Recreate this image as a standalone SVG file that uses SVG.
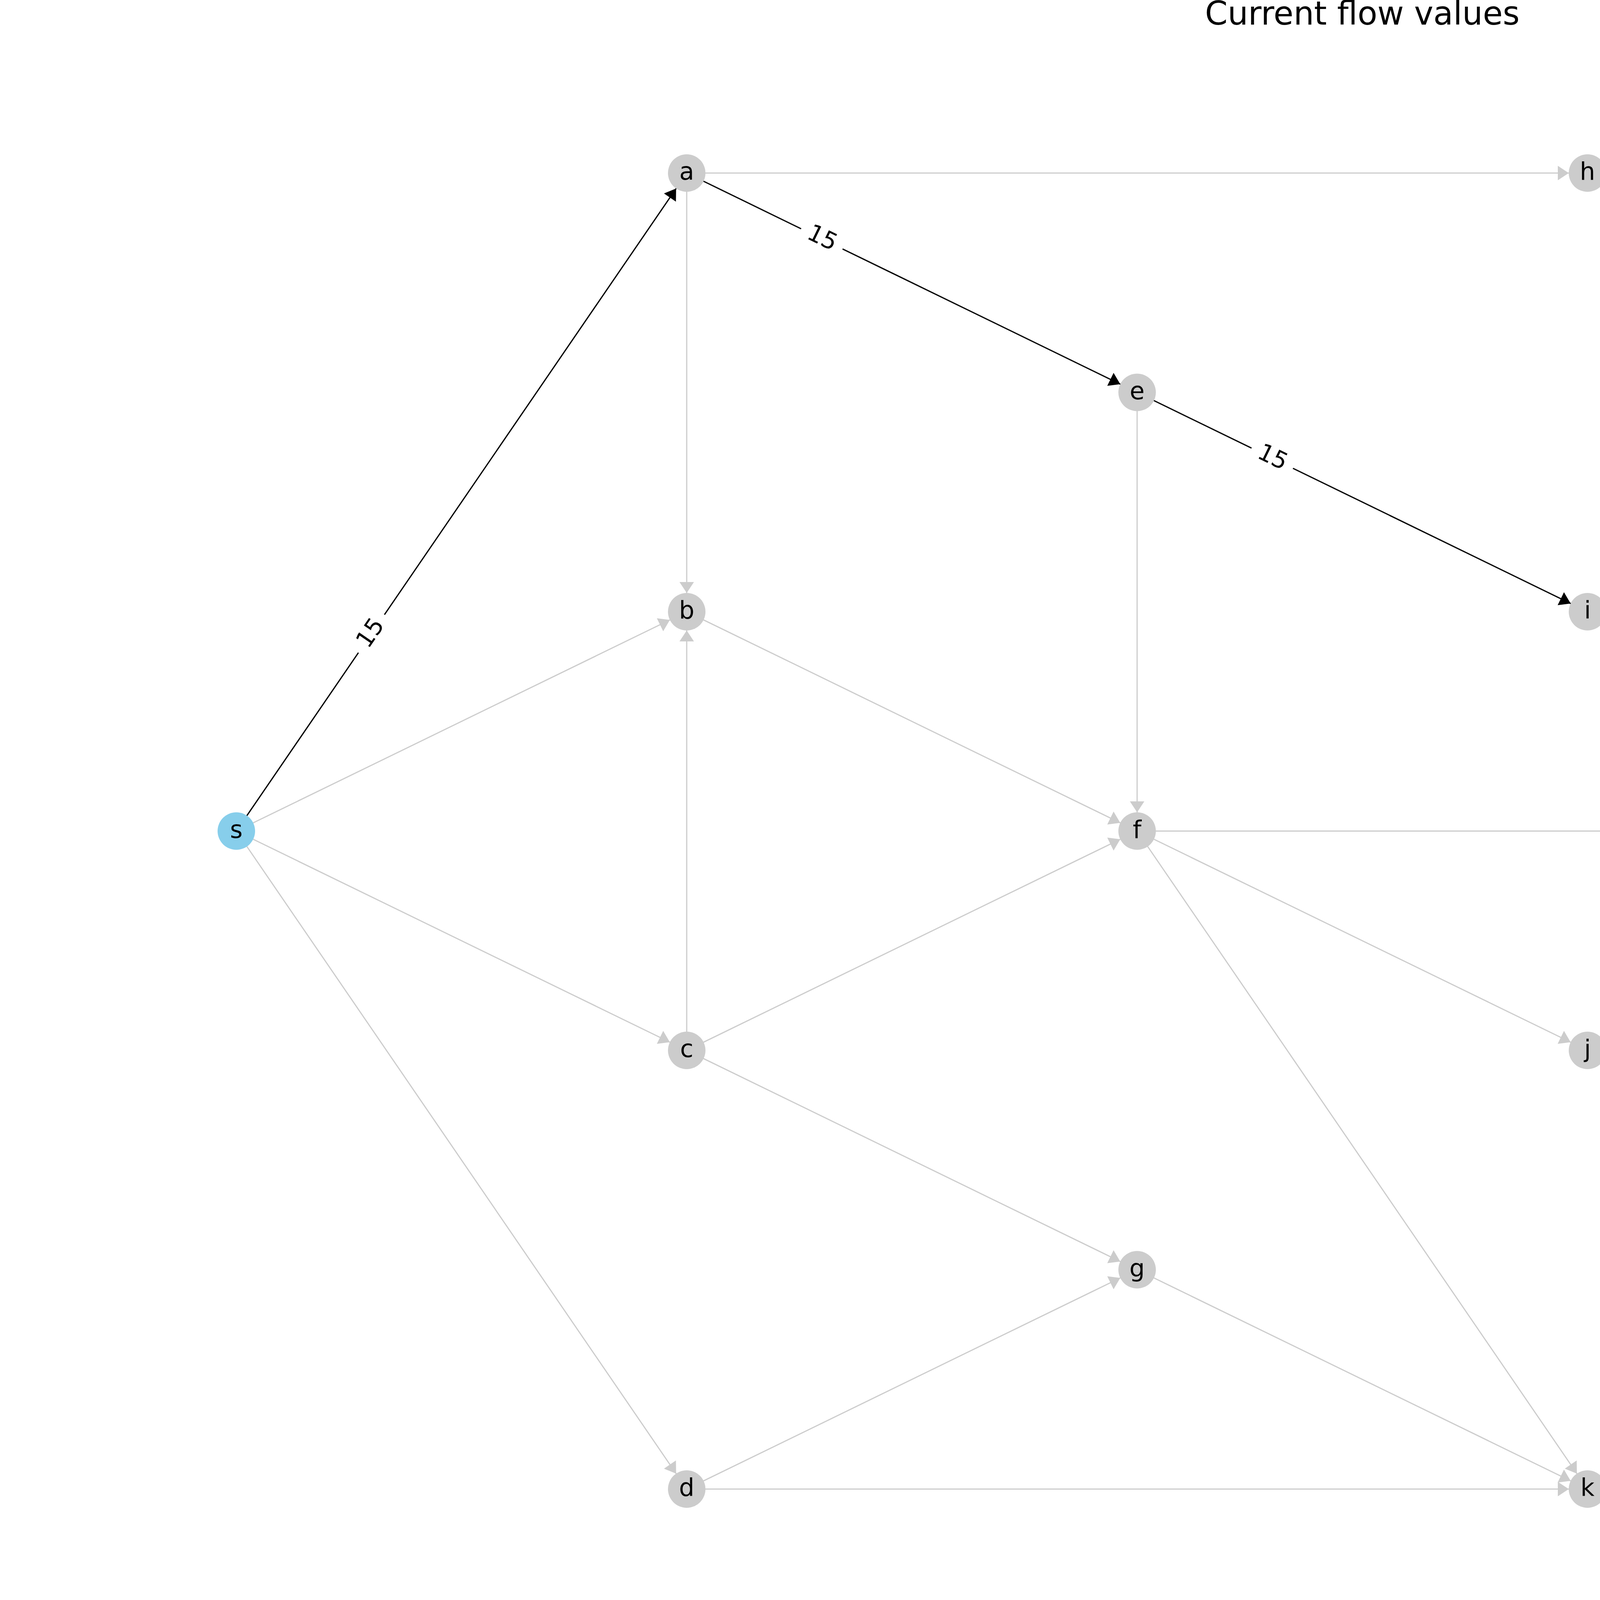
<svg xmlns="http://www.w3.org/2000/svg" width="6975" height="4166" viewBox="0 0 6975 4166">
<style>
.eg{stroke:#cccccc;stroke-width:3;fill:none;marker-end:url(#ag)}
.eb{stroke:#000000;stroke-width:3.2;fill:none;marker-end:url(#ab)}
.nd{fill:#cccccc}
.st{fill:#87ceeb}
.nl{font-family:"DejaVu Sans",sans-serif;font-size:62px;fill:#000;text-anchor:middle}
.el{font-family:"DejaVu Sans",sans-serif;font-size:60px;fill:#000;text-anchor:middle}
.lb{fill:#ffffff;stroke:none}
.tt{font-family:"DejaVu Sans",sans-serif;font-size:83px;fill:#000;text-anchor:middle}
</style>
<defs>
<marker id="ag" markerUnits="userSpaceOnUse" markerWidth="80" markerHeight="40" viewBox="0 -20 80 40" refX="76" refY="0" orient="auto" overflow="visible"><path d="M0,-18.5 L28,0 L0,18.5 Z" fill="#cccccc"/></marker>
<marker id="ab" markerUnits="userSpaceOnUse" markerWidth="80" markerHeight="40" viewBox="0 -20 80 40" refX="76" refY="0" orient="auto" overflow="visible"><path d="M0,-18.5 L28,0 L0,18.5 Z" fill="#000000"/></marker>
</defs>
<rect width="6975" height="4166" fill="#ffffff"/>
<text class="tt" x="3487.5" y="63">Current flow values</text>
<g id="connectors">
<line class="eg" x1="605" y1="2127.5" x2="1758" y2="1566"/>
<line class="eg" x1="605" y1="2127.5" x2="1758" y2="2689"/>
<line class="eg" x1="605" y1="2127.5" x2="1758" y2="3812"/>
<line class="eg" x1="1758" y1="443" x2="4064" y2="443"/>
<line class="eg" x1="1758" y1="443" x2="1758" y2="1566"/>
<line class="eg" x1="1758" y1="2689" x2="1758" y2="1566"/>
<line class="eg" x1="1758" y1="1566" x2="2911" y2="2127.5"/>
<line class="eg" x1="1758" y1="2689" x2="2911" y2="2127.5"/>
<line class="eg" x1="2911" y1="1004.5" x2="2911" y2="2127.5"/>
<line class="eg" x1="1758" y1="2689" x2="2911" y2="3250.5"/>
<line class="eg" x1="1758" y1="3812" x2="2911" y2="3250.5"/>
<line class="eg" x1="1758" y1="3812" x2="4064" y2="3812"/>
<line class="eg" x1="2911" y1="3250.5" x2="4064" y2="3812"/>
<line class="eg" x1="2911" y1="2127.5" x2="4064" y2="3812"/>
<line class="eg" x1="2911" y1="2127.5" x2="5217" y2="2127.5"/>
<line class="eg" x1="2911" y1="2127.5" x2="4064" y2="2689"/>
<line class="eg" x1="4064" y1="443" x2="5217" y2="1004.5"/>
<line class="eg" x1="4064" y1="1566" x2="5217" y2="1004.5"/>
<line class="eg" x1="4064" y1="1566" x2="5217" y2="2127.5"/>
<line class="eg" x1="4064" y1="2689" x2="5217" y2="2127.5"/>
<line class="eg" x1="4064" y1="2689" x2="5217" y2="3250.5"/>
<line class="eg" x1="4064" y1="3812" x2="5217" y2="3250.5"/>
<line class="eg" x1="5217" y1="3250.5" x2="5217" y2="2127.5"/>
<line class="eg" x1="5217" y1="3250.5" x2="6370" y2="2127.5"/>
<line class="eg" x1="5217" y1="1004.5" x2="6370" y2="2127.5"/>
<line class="eg" x1="5217" y1="2127.5" x2="6370" y2="2127.5"/>
<line class="eb" x1="605" y1="2127.5" x2="1758" y2="443"/>
<line class="eb" x1="1758" y1="443" x2="2911" y2="1004.5"/>
<line class="eb" x1="2911" y1="1004.5" x2="4064" y2="1566"/>
<line class="eb" x1="4064" y1="1566" x2="6370" y2="2127.5"/>
<g transform="translate(950.9,1622.2) rotate(-55.6)"><rect class="lb" x="-59" y="-48" width="118" height="96" rx="18"/><text class="el" x="0" y="16">15</text></g>
<g transform="translate(2103.9,611.5) rotate(25.96)"><rect class="lb" x="-59" y="-48" width="118" height="96" rx="18"/><text class="el" x="0" y="16">15</text></g>
<g transform="translate(3256.9,1173) rotate(25.96)"><rect class="lb" x="-59" y="-48" width="118" height="96" rx="18"/><text class="el" x="0" y="16">15</text></g>
<g transform="translate(4755.8,1734.5) rotate(13.69)"><rect class="lb" x="-59" y="-48" width="118" height="96" rx="18"/><text class="el" x="0" y="16">15</text></g>
</g>
<g id="node-s"><circle class="st" cx="605" cy="2127.5" r="48"/><text class="nl" x="605" y="2144.5">s</text></g>
<g id="node-a"><circle class="nd" cx="1758" cy="443" r="48"/><text class="nl" x="1758" y="460">a</text></g>
<g id="node-b"><circle class="nd" cx="1758" cy="1566" r="48"/><text class="nl" x="1758" y="1583">b</text></g>
<g id="node-c"><circle class="nd" cx="1758" cy="2689" r="48"/><text class="nl" x="1758" y="2706">c</text></g>
<g id="node-d"><circle class="nd" cx="1758" cy="3812" r="48"/><text class="nl" x="1758" y="3829">d</text></g>
<g id="node-e"><circle class="nd" cx="2911" cy="1004.5" r="48"/><text class="nl" x="2911" y="1021.5">e</text></g>
<g id="node-f"><circle class="nd" cx="2911" cy="2127.5" r="48"/><text class="nl" x="2911" y="2144.5">f</text></g>
<g id="node-g"><circle class="nd" cx="2911" cy="3250.5" r="48"/><text class="nl" x="2911" y="3267.5">g</text></g>
<g id="node-h"><circle class="nd" cx="4064" cy="443" r="48"/><text class="nl" x="4064" y="460">h</text></g>
<g id="node-i"><circle class="nd" cx="4064" cy="1566" r="48"/><text class="nl" x="4064" y="1583">i</text></g>
<g id="node-j"><circle class="nd" cx="4064" cy="2689" r="48"/><text class="nl" x="4064" y="2706">j</text></g>
<g id="node-k"><circle class="nd" cx="4064" cy="3812" r="48"/><text class="nl" x="4064" y="3829">k</text></g>
<g id="node-l"><circle class="nd" cx="5217" cy="1004.5" r="48"/><text class="nl" x="5217" y="1021.5">l</text></g>
<g id="node-m"><circle class="nd" cx="5217" cy="2127.5" r="48"/><text class="nl" x="5217" y="2144.5">m</text></g>
<g id="node-n"><circle class="nd" cx="5217" cy="3250.5" r="48"/><text class="nl" x="5217" y="3267.5">n</text></g>
<g id="node-t"><circle class="st" cx="6370" cy="2127.5" r="48"/><text class="nl" x="6370" y="2144.5">t</text></g>
</svg>
